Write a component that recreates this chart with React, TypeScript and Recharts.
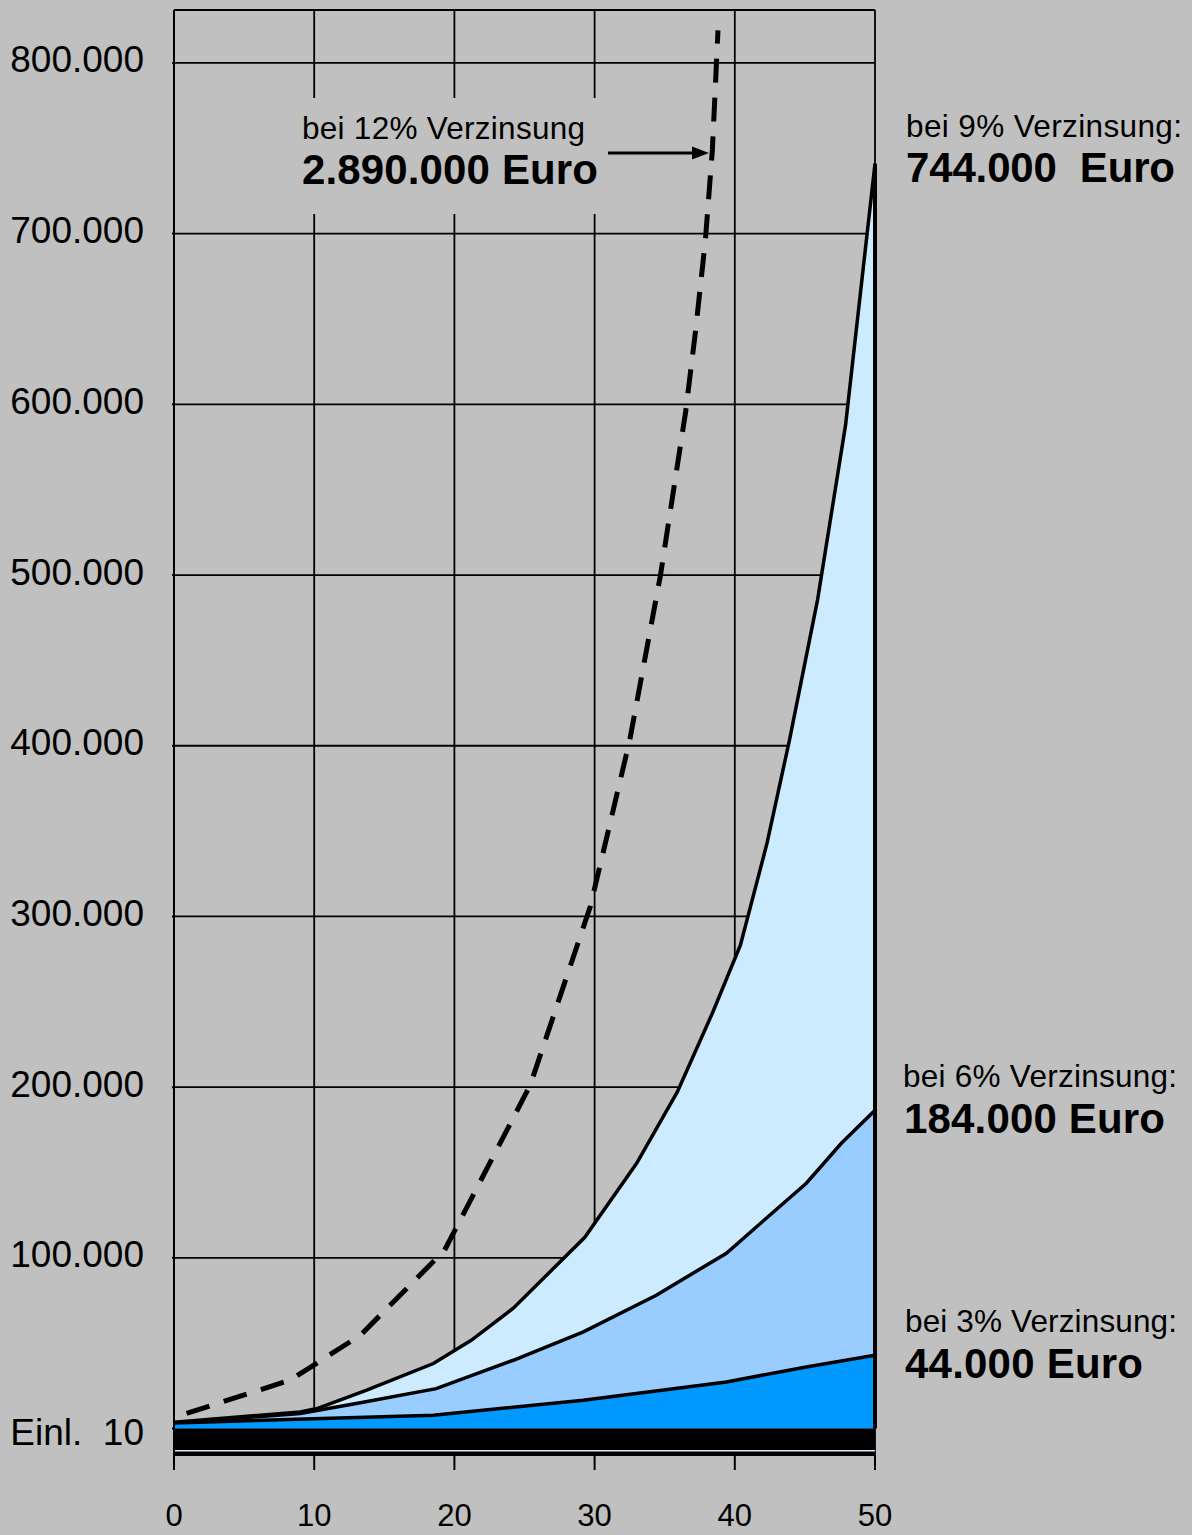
import React from 'react';
import {
  ComposedChart,
  Area,
  Line,
  XAxis,
  YAxis,
  CartesianGrid,
  ReferenceLine,
  ReferenceArea,
} from 'recharts';

const FONT = '"Liberation Sans", Arial, Helvetica, sans-serif';

// Axis ticks
const yearTicks = [0, 10, 20, 30, 40, 50];
const valueTicks = [0, 100000, 200000, 300000, 400000, 500000, 600000, 700000, 800000];
const valueTickLabels = ['Einl.  10', '100.000', '200.000', '300.000', '400.000', '500.000', '600.000', '700.000', '800.000'];

// 12 % (dashed, runs off the top)
const years12 = [0.9, 8.3, 13.3, 19.3, 25.4, 29.7, 32.5, 34.7, 36.5, 37.2, 37.9, 38.4, 38.8];
const values12 = [8900, 28400, 54700, 104500, 201000, 306000, 403000, 500000, 596000, 643000, 696000, 749000, 819000];

// 9 %
const years9 = [0, 9, 10.2, 13.7, 18.5, 21.2, 24.2, 29.3, 33, 35.9, 38.4, 40.4, 42.3, 43.9, 45.9, 47.9, 50];
const values9 = [3700, 9700, 11700, 22400, 38100, 51700, 70500, 112000, 155400, 197200, 243300, 283100, 342900, 403300, 485300, 587800, 741000];

// 6 %
const years6 = [0, 9, 13.1, 18.7, 24.2, 29.2, 34.4, 39.4, 45.1, 47.6, 50];
const values6 = [3300, 8800, 14800, 23400, 40000, 56600, 78100, 102700, 143700, 167100, 186400];

// 3 %
const years3 = [0, 18.5, 29.2, 39.4, 45.1, 50];
const values3 = [3300, 7800, 16600, 27300, 36100, 42900];

// Einlage band (below zero line)
const bandBottom = -15500;
const bandLine = -13000;
const valueMax = 831000;

const allX = Array.from(new Set([...years12, ...years9, ...years6, ...years3])).sort((a, b) => a - b);
const data = allX.map((x) => {
  const row: Record<string, number> = { x };
  const i12 = years12.indexOf(x);
  if (i12 >= 0) row.v12 = values12[i12];
  const i9 = years9.indexOf(x);
  if (i9 >= 0) row.v9 = values9[i9];
  const i6 = years6.indexOf(x);
  if (i6 >= 0) row.v6 = values6[i6];
  const i3 = years3.indexOf(x);
  if (i3 >= 0) row.v3 = values3[i3];
  return row;
});

const YTick = (props: any) => {
  const { x, y, payload } = props;
  const i = valueTicks.indexOf(payload.value);
  const label = valueTickLabels[i];
  const dy = payload.value === 0 ? 16.5 : 9.5;
  return (
    <text
      x={x}
      y={y}
      dy={dy}
      textAnchor="end"
      fontFamily={FONT}
      fontSize={37}
      fill="#000"
      style={{ whiteSpace: 'pre' }}
    >
      {label}
    </text>
  );
};

const Annot = ({ x, y, w, bold, children }: any) => (
  <text
    x={x}
    y={y}
    fontFamily={FONT}
    fontSize={bold ? 42 : 31.5}
    fontWeight={bold ? 'bold' : 'normal'}
    fill="#000"
    textLength={w}
    lengthAdjust="spacing"
    style={{ whiteSpace: 'pre' }}
  >
    {children}
  </text>
);

export default function App() {
  return (
    <div style={{ position: 'absolute', left: 0, top: 0, width: 1192, height: 1535, background: '#C0C0C0' }}>
      <ComposedChart
        width={1192}
        height={1535}
        data={data}
        margin={{ top: 10, right: 317, bottom: 0, left: 0 }}
      >
        <CartesianGrid stroke="#000" strokeWidth={1.8} fill="none" />
        <XAxis
          dataKey="x"
          type="number"
          domain={[0, 50]}
          ticks={yearTicks}
          allowDataOverflow
          axisLine={false}
          tickLine={{ stroke: '#000', strokeWidth: 2 }}
          tickSize={15}
          tickMargin={34}
          height={80}
          tick={{ fontSize: 31, fill: '#000', fontFamily: FONT }}
        />
        <YAxis
          type="number"
          domain={[bandBottom, valueMax]}
          ticks={valueTicks}
          allowDataOverflow
          width={174}
          axisLine={{ stroke: '#000', strokeWidth: 2 }}
          tickLine={{ stroke: '#000', strokeWidth: 2 }}
          tickSize={2}
          tickMargin={28}
          tick={<YTick />}
        />
        <Area
          dataKey="v9"
          type="linear"
          fill="#CCEBFF"
          fillOpacity={1}
          stroke="#000"
          strokeWidth={3.5}
          connectNulls
          dot={false}
          activeDot={false}
          isAnimationActive={false}
        />
        <Area
          dataKey="v6"
          type="linear"
          fill="#99CCFF"
          fillOpacity={1}
          stroke="#000"
          strokeWidth={3.5}
          connectNulls
          dot={false}
          activeDot={false}
          isAnimationActive={false}
        />
        <Area
          dataKey="v3"
          type="linear"
          fill="#0099FF"
          fillOpacity={1}
          stroke="#000"
          strokeWidth={3.5}
          connectNulls
          dot={false}
          activeDot={false}
          isAnimationActive={false}
        />
        <ReferenceArea x1={0} x2={50} y1={bandBottom} y2={0} fill="#000" fillOpacity={1} stroke="none" />
        <ReferenceLine y={bandLine} stroke="#CCEBFF" strokeWidth={1.5} />
        <ReferenceLine
          segment={[
            { x: 50, y: 0 },
            { x: 50, y: values9[values9.length - 1] },
          ]}
          stroke="#000"
          strokeWidth={4}
        />
        <Line
          dataKey="v12"
          type="linear"
          stroke="#000"
          strokeWidth={5}
          strokeDasharray="24 15"
          connectNulls
          dot={false}
          activeDot={false}
          isAnimationActive={false}
        />
      </ComposedChart>
      <svg
        width={1192}
        height={1535}
        style={{ position: 'absolute', left: 0, top: 0, pointerEvents: 'none' }}
      >
        <rect x={292} y={98} width={310} height={116} fill="#C0C0C0" />
        <Annot x={302} y={139} w={283}>bei 12% Verzinsung</Annot>
        <Annot x={302} y={184} w={296} bold>2.890.000 Euro</Annot>
        <line x1={608} y1={153} x2={694} y2={153} stroke="#000" strokeWidth={3} />
        <polygon points="709,153 692,146.5 692,159.5" fill="#000" />

        <Annot x={906} y={137} w={276}>bei 9% Verzinsung:</Annot>
        <Annot x={906} y={182} w={269} bold>744.000  Euro</Annot>

        <Annot x={903} y={1087} w={274}>bei 6% Verzinsung:</Annot>
        <Annot x={904} y={1133} w={261} bold>184.000 Euro</Annot>

        <Annot x={905} y={1332} w={272}>bei 3% Verzinsung:</Annot>
        <Annot x={905} y={1378} w={238} bold>44.000 Euro</Annot>
      </svg>
    </div>
  );
}
